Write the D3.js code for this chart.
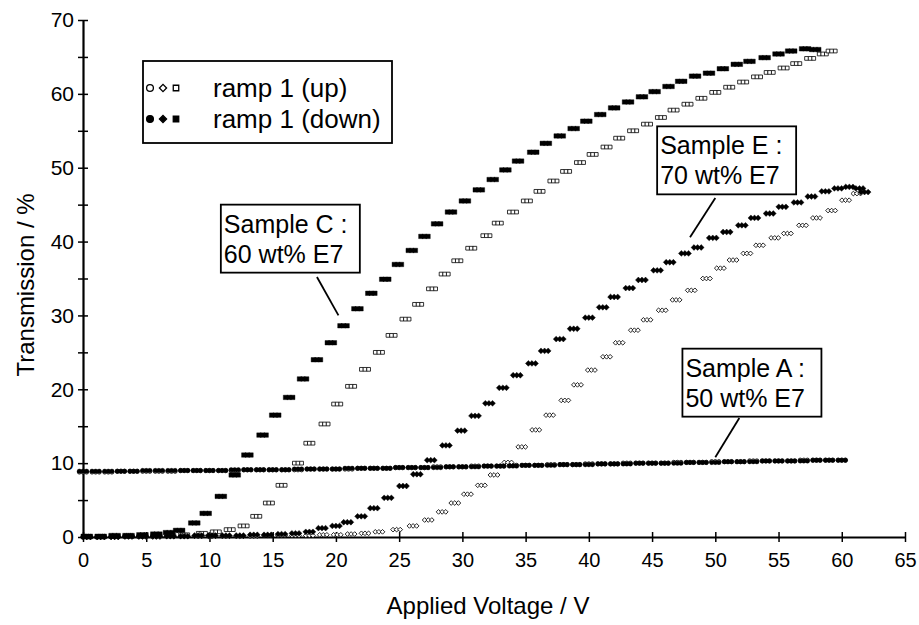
<!DOCTYPE html>
<html>
    <head>
        <title>Transmission vs applied voltage</title>
        <script src="https://d3js.org/d3.v7.min.js"></script>
        <style>
            body { margin: 0; background: #fff; }
            text { font-family: "Liberation Sans", Arial, sans-serif; fill: #000; }
        </style>
    </head>
    <body>
    </body>
    <script>
        // readings: [voltage (V), transmission (%)]
        var sampleCDown = [[0.3,0.1],[1.4,0.1],[2.5,0.2],[3.6,0.2],[4.7,0.3],[5.8,0.4],[6.8,0.6],[7.6,0.9],[8.8,1.9],[9.7,3.2],[10.9,5.5],[12.0,8.4],[13.0,11.1],[14.2,13.8],[15.2,16.5],[16.3,18.9],[17.4,21.4],[18.5,24.0],[19.6,26.3],[20.6,28.6],[21.7,30.9],[22.8,33.0],[23.9,34.9],[24.9,36.9],[26.0,38.8],[27.0,40.7],[28.0,42.4],[29.1,44.0],[30.2,45.5],[31.3,47.0],[32.4,48.4],[33.4,49.7],[34.4,50.9],[35.6,52.1],[36.6,53.3],[37.7,54.3],[38.8,55.3],[39.8,56.3],[40.9,57.2],[42.0,58.1],[43.1,58.9],[44.2,59.6],[45.2,60.3],[46.3,61.0],[47.3,61.7],[48.4,62.4],[49.5,62.8],[50.6,63.4],[51.7,64.0],[52.7,64.4],[53.9,64.9],[55.0,65.4],[56.0,65.8],[57.1,66.1],[57.9,66.0]];
        var sampleCUp = [[0.3,0.0],[1.4,0.0],[2.5,0.1],[3.6,0.1],[4.7,0.1],[5.8,0.2],[6.9,0.2],[8.0,0.3],[9.4,0.5],[10.5,0.7],[11.6,1.0],[12.7,1.5],[13.7,2.8],[14.7,4.6],[15.7,7.0],[17.0,10.0],[17.9,12.7],[19.1,15.3],[20.1,18.0],[21.2,20.4],[22.3,22.7],[23.4,25.0],[24.4,27.3],[25.5,29.5],[26.5,31.5],[27.6,33.6],[28.6,35.6],[29.6,37.4],[30.7,39.1],[31.9,40.8],[32.8,42.5],[34.0,44.0],[35.1,45.5],[36.1,46.8],[37.2,48.2],[38.2,49.5],[39.3,50.7],[40.3,51.8],[41.4,52.8],[42.4,54.0],[43.5,55.0],[44.6,55.9],[45.7,56.8],[46.7,57.8],[47.8,58.6],[48.9,59.4],[50.0,60.2],[51.1,60.9],[52.2,61.6],[53.3,62.3],[54.3,62.9],[55.4,63.5],[56.4,64.1],[57.5,64.8],[58.5,65.4],[59.2,65.8]];
        var sampleEDown = [[0.3,0.0],[1.4,0.0],[2.5,0.0],[3.6,0.1],[4.7,0.1],[5.8,0.1],[6.9,0.1],[8.0,0.1],[9.1,0.2],[10.2,0.2],[11.3,0.2],[12.4,0.2],[13.5,0.3],[14.6,0.3],[15.7,0.4],[16.8,0.5],[17.9,0.7],[18.9,1.2],[20.0,1.5],[20.9,2.0],[22.0,2.8],[23.0,3.9],[24.1,5.3],[25.3,6.9],[26.4,8.5],[27.5,10.4],[28.7,12.4],[29.9,14.4],[31.0,16.4],[32.1,18.1],[33.2,20.2],[34.3,21.9],[35.5,23.5],[36.5,25.2],[37.7,26.8],[38.8,28.2],[40.0,29.7],[41.1,31.1],[42.0,32.5],[43.2,33.7],[44.2,34.8],[45.4,36.1],[46.4,37.2],[47.6,38.4],[48.6,39.2],[49.8,40.5],[50.9,41.3],[52.1,42.2],[53.1,43.2],[54.3,43.8],[55.3,44.7],[56.5,45.3],[57.6,46.1],[58.7,46.8],[59.7,47.2],[60.6,47.4],[61.4,47.2],[61.8,46.7]];
        var sampleEUp = [[0.3,0.0],[1.4,0.0],[2.5,0.0],[3.6,0.0],[4.7,0.0],[5.8,0.0],[6.9,0.1],[8.0,0.1],[9.1,0.1],[10.2,0.1],[11.3,0.1],[12.4,0.1],[13.5,0.1],[14.6,0.2],[15.7,0.2],[16.8,0.2],[17.9,0.2],[19.0,0.3],[20.1,0.3],[21.2,0.4],[22.3,0.5],[23.4,0.7],[24.8,1.0],[26.1,1.5],[27.3,2.3],[28.4,3.4],[29.4,4.6],[30.4,5.8],[31.5,7.0],[32.5,8.4],[33.6,10.1],[34.7,12.2],[35.8,14.5],[36.9,16.5],[38.1,18.5],[39.1,20.6],[40.2,22.6],[41.4,24.4],[42.4,26.3],[43.6,28.0],[44.6,29.4],[45.8,30.7],[46.9,32.1],[48.1,33.4],[49.3,35.0],[50.4,36.4],[51.4,37.5],[52.5,38.4],[53.5,39.5],[54.7,40.5],[55.7,41.1],[56.9,42.2],[58.0,43.2],[59.2,44.2],[60.3,45.6],[61.2,46.5]];
        var sampleAVolts = [0,1,2,3,4,5,6,7,8,9,10,11,12,13,14,15,16,17,18,19,20,21,22,23,24,25,26,27,28,29,30,31,32,33,34,35,36,37,38,39,40,41,42,43,44,45,46,47,48,49,50,51,52,53,54,55,56,57,58,59,60];
        var sampleADown = [8.9,8.9,8.9,8.9,8.9,9.0,9.0,9.0,9.0,9.0,9.0,9.0,9.1,9.1,9.1,9.1,9.1,9.2,9.2,9.2,9.2,9.3,9.3,9.3,9.3,9.4,9.4,9.4,9.4,9.5,9.5,9.5,9.6,9.6,9.6,9.7,9.7,9.7,9.8,9.8,9.8,9.9,9.9,9.9,10.0,10.0,10.0,10.0,10.1,10.1,10.1,10.2,10.2,10.2,10.3,10.3,10.3,10.3,10.4,10.4,10.4];
        var sampleAUp = [8.8,8.8,8.8,8.9,8.9,8.9,8.9,8.9,9.0,9.0,9.0,9.0,9.0,9.1,9.1,9.1,9.1,9.1,9.2,9.2,9.2,9.2,9.3,9.3,9.3,9.4,9.4,9.4,9.5,9.5,9.5,9.6,9.6,9.6,9.7,9.7,9.7,9.8,9.8,9.8,9.9,9.9,9.9,10.0,10.0,10.0,10.0,10.1,10.1,10.1,10.2,10.2,10.2,10.3,10.3,10.3,10.3,10.4,10.4,10.4,10.4];

        var xTicks = [0,5,10,15,20,25,30,35,40,45,50,55,60,65];
        var yTicks = [0,5,10,15,20,25,30,35,40,45,50,55,60,65,70];

        var w = 919;
        var h = 625;
        var margin = {top: 20, left: 83, right: 14, bottom: 88};

        var svg = d3.select("body")
                    .append("svg")
                    .attr("width", w)
                    .attr("height", h);

        var x = d3.scaleLinear().domain([0, 65]).range([margin.left, w - margin.right]);
        var y = d3.scaleLinear().domain([0, 70]).range([h - margin.bottom, margin.top]);

        // axes with ticks crossing the line
        var xAxis = svg.append("g")
            .attr("transform", "translate(0," + y(0) + ")")
            .call(d3.axisBottom(x).tickValues(xTicks).tickSizeOuter(0).tickSizeInner(5).tickPadding(11));
        xAxis.selectAll(".tick line").attr("y1", -5).attr("y2", 5).attr("stroke-width", 1.5);
        xAxis.selectAll(".tick text").attr("font-size", 20);

        var yAxis = svg.append("g")
            .attr("transform", "translate(" + x(0) + ",0)")
            .call(d3.axisLeft(y).tickValues(yTicks).tickSizeOuter(0).tickSizeInner(5).tickPadding(4)
                .tickFormat(function(d){ return d % 10 === 0 ? d : ""; }));
        yAxis.selectAll(".tick line").attr("x1", -5).attr("x2", 5).attr("stroke-width", 1.5);
        yAxis.selectAll(".tick text").attr("font-size", 21);

        svg.selectAll(".domain").attr("stroke-width", 2.2);
        svg.selectAll(".tick text").attr("font-family", null);

        // axis titles
        svg.append("text")
            .attr("x", 488)
            .attr("y", 614)
            .attr("text-anchor", "middle")
            .attr("font-size", 24)
            .text("Applied Voltage / V");

        svg.append("text")
            .attr("transform", "translate(34,285) rotate(-90)")
            .attr("text-anchor", "middle")
            .attr("font-size", 24)
            .text("Transmission / %");

        // each reading drawn as a small cluster of three markers, like the original
        var offsets = [-3.6, 0, 3.6];

        function drawSeries(data, shape, size, filled, turn) {
            var g = svg.append("g");
            data.forEach(function(d){
                offsets.forEach(function(o){
                    g.append("path")
                        .attr("d", d3.symbol().type(shape).size(size))
                        .attr("transform", "translate(" + (x(d[0]) + o) + "," + y(d[1]) + ")" + (turn ? " rotate(45)" : ""))
                        .attr("fill", filled ? "#000" : "#fff")
                        .attr("stroke", "#000")
                        .attr("stroke-width", filled ? 0.4 : 0.8);
                });
            });
        }

        var aUp = sampleAVolts.map(function(v, i){ return [v, sampleAUp[i]]; });
        var aDown = sampleAVolts.map(function(v, i){ return [v, sampleADown[i]]; });

        drawSeries(aUp, d3.symbolCircle, 14, false, false);
        drawSeries(sampleEUp, d3.symbolSquare, 11, false, true);
        drawSeries(sampleCUp, d3.symbolSquare, 14, false, false);
        drawSeries(aDown, d3.symbolCircle, 16, true, false);
        drawSeries(sampleEDown, d3.symbolSquare, 17, true, true);
        drawSeries(sampleCDown, d3.symbolSquare, 20, true, false);

        // legend
        var legend = svg.append("g");
        legend.append("rect")
            .attr("x", 143).attr("y", 61).attr("width", 249).attr("height", 82)
            .attr("fill", "#fff").attr("stroke", "#000").attr("stroke-width", 1.8);
        var legendShapes = [
            {type: d3.symbolCircle, size: 36, turn: false},
            {type: d3.symbolSquare, size: 26, turn: true},
            {type: d3.symbolSquare, size: 30, turn: false}
        ];
        var legendRows = [{label: "ramp 1 (up)", filled: false, cy: 88}, {label: "ramp 1 (down)", filled: true, cy: 119}];
        legendRows.forEach(function(r){
            legendShapes.forEach(function(s, i){
                legend.append("path")
                    .attr("d", d3.symbol().type(s.type).size(s.size))
                    .attr("transform", "translate(" + (150 + i * 13) + "," + r.cy + ")" + (s.turn ? " rotate(45)" : ""))
                    .attr("fill", r.filled ? "#000" : "#fff")
                    .attr("stroke", "#000")
                    .attr("stroke-width", 1.3);
            });
            legend.append("text")
                .attr("x", 213)
                .attr("y", r.cy + 9)
                .attr("font-size", 26)
                .text(r.label);
        });

        // sample annotations: box corner, leader line start and end in data units
        var notes = [
            {lines: ["Sample C :", "60 wt% E7"], box: [10.9, 45.0], from: [18.5, 35.2], to: [20.2, 30.0]},
            {lines: ["Sample E :", "70 wt% E7"], box: [45.4, 55.6], from: [50.0, 45.9], to: [48.0, 40.6]},
            {lines: ["Sample A :", "50 wt% E7"], box: [47.4, 25.5], from: [51.9, 16.1], to: [50.0, 10.8]}
        ];
        notes.forEach(function(n){
            var bx = x(n.box[0]), by = y(n.box[1]);
            svg.append("line")
                .attr("x1", x(n.from[0])).attr("y1", y(n.from[1]))
                .attr("x2", x(n.to[0])).attr("y2", y(n.to[1]))
                .attr("stroke", "#000").attr("stroke-width", 1.8);
            svg.append("rect")
                .attr("x", bx).attr("y", by).attr("width", 139).attr("height", 68)
                .attr("fill", "#fff").attr("stroke", "#000").attr("stroke-width", 1.8);
            n.lines.forEach(function(t, i){
                svg.append("text")
                    .attr("x", bx + 3)
                    .attr("y", by + 28 + i * 30)
                    .attr("font-size", 25)
                    .text(t);
            });
        });
    </script>
</html>
